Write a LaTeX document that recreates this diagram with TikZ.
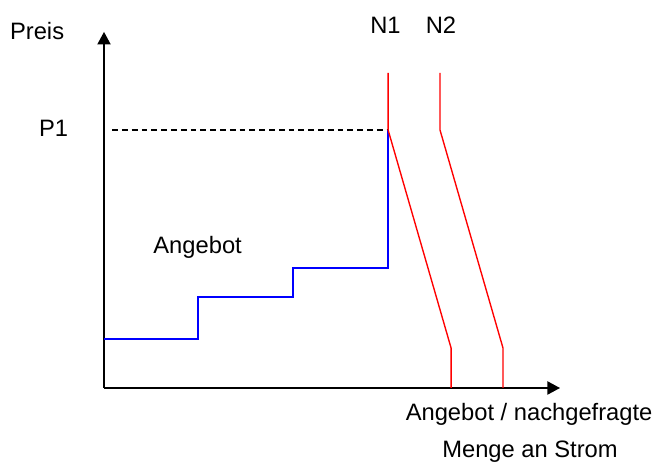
\documentclass[tikz,border=0pt]{standalone}
\usepackage{fontspec}
\setmainfont{Liberation Sans}
\usetikzlibrary{arrows.meta}

\tikzset{
	axis/.style={line width=1.4pt, -{Triangle[length=4.2mm,width=4.4mm]}},
	supply/.style={blue, line width=1.3pt},
	demand/.style={red, line width=1.3pt},
	lbl/.style={anchor=base, inner sep=0pt, font=\fontsize{22.5}{27}\selectfont}
}

\begin{document}
\begin{tikzpicture}
				\useasboundingbox (-3.467,-2.6) rectangle (18.533,12.933);
				%% axes
				\draw[axis] (0,0) -- (0,11.87);
				\draw[axis] (0,0) -- (15.2,0);
				\node[lbl] (preis) at (-2.23,11.63) {Preis};
				\node[lbl] (menge1) at (14.17,-1.07) {Angebot / nachgefragte};
				\node[lbl] (menge2) at (14.2,-2.33) {Menge an Strom};
				
				%% price level
				\draw[line width=1.3pt, dash pattern=on 5.5pt off 3.8pt] (0.27,8.6) -- (9.47,8.6);
				\node[lbl] (p1) at (-1.68,8.37) {P1};
				
				%% merit order steps
				\draw[supply] (0,1.63) -- (3.13,1.63) -- (3.13,3.03) -- (6.3,3.03) -- (6.3,4.0) -- (9.47,4.0) -- (9.47,8.6);
				\node[lbl] (angebot) at (3.12,4.47) {Angebot};
				
				%% demand curves
				\draw[demand] (9.47,10.5) -- (9.47,8.6) -- (11.57,1.33) -- (11.57,0);
				\draw[demand] (11.2,10.5) -- (11.2,8.6) -- (13.3,1.33) -- (13.3,0);
				\node[lbl] (n1) at (9.38,11.83) {N1};
				\node[lbl] (n2) at (11.23,11.83) {N2};
\end{tikzpicture}
\end{document}
